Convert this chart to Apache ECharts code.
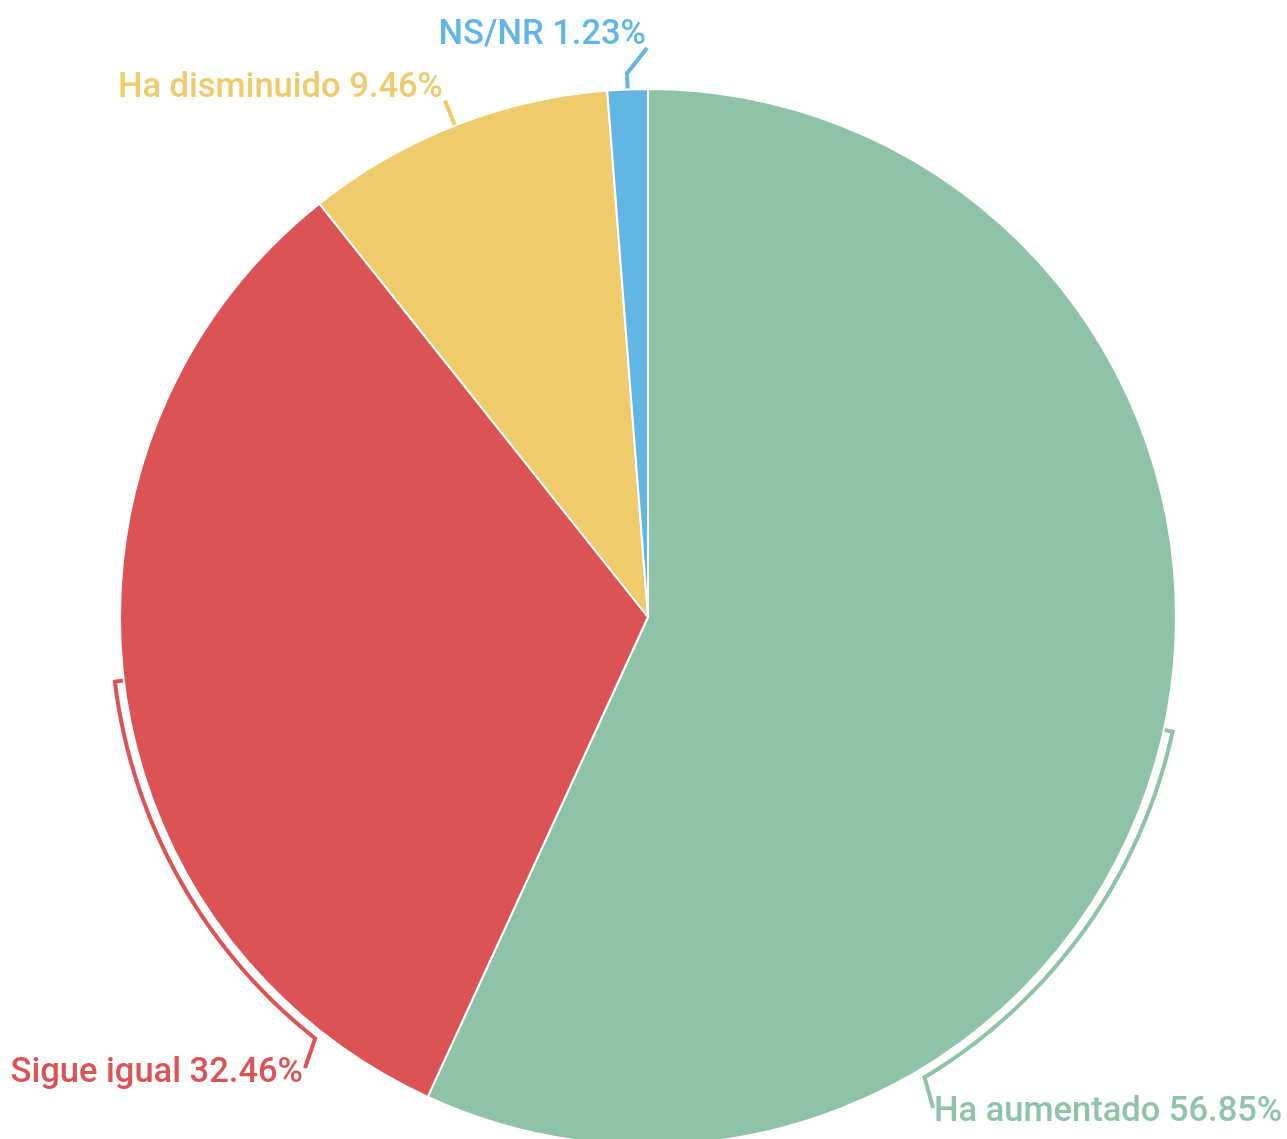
<!DOCTYPE html>
<html>
<head>
<meta charset="utf-8">
<script src="https://cdn.jsdelivr.net/npm/echarts@6/dist/echarts.min.js"></script>
<style>
  html, body { margin: 0; padding: 0; background: #fff; }
  #chart { width: 1287px; height: 1139px; }
</style>
</head>
<body>
<div id="chart"></div>
<script>
// datos
const categories = ['Ha aumentado', 'Sigue igual', 'Ha disminuido', 'NS/NR']
const values = [56.85, 32.46, 9.46, 1.23]
const colors = ['#8fc3a8', '#dc5356', '#eecb6b', '#61b6e4']

// geometría del pastel
const CX = 648
const CY = 617
const R = 528

// guías de etiqueta (estilo): radio del trazo, ángulo final del arco, extremo y etiqueta
const guides = [
  { r: 537, arcTo: 149, end: [933, 1108], label: { x: 934, y: 1112, align: 'left' } },
  { r: 537, arcTo: 218.3, end: [305, 1068], label: { x: 303, y: 1073, align: 'right' } },
  { r: 555, arcTo: null, end: null, label: { x: 443, y: 88, align: 'right' } },
  { r: 544, arcTo: null, end: [647, 48], label: { x: 646, y: 35, align: 'right' } }
]

const total = values.reduce((a, b) => a + b, 0)

function polar(r, deg) {
  const a = (deg * Math.PI) / 180
  return [CX + r * Math.sin(a), CY - r * Math.cos(a)]
}

function midAngle(i) {
  let acc = 0
  for (let j = 0; j < i; j++) acc += values[j]
  return ((acc + values[i] / 2) / total) * 360
}

function guidePoints(i) {
  const g = guides[i]
  const mid = midAngle(i)
  const pts = [polar(R, mid), polar(g.r, mid)]
  if (g.arcTo != null) {
    const step = g.arcTo > mid ? 1 : -1
    for (let a = mid + step; step > 0 ? a < g.arcTo : a > g.arcTo; a += step) {
      pts.push(polar(g.r, a))
    }
    pts.push(polar(g.r, g.arcTo))
  }
  if (g.end) pts.push(g.end)
  return pts
}

const chart = echarts.init(document.getElementById('chart'))

chart.setOption({
  animation: false,
  color: colors,
  series: [
    {
      type: 'pie',
      center: [CX, CY],
      radius: R,
      startAngle: 90,
      clockwise: true,
      avoidLabelOverlap: false,
      itemStyle: { borderColor: '#fff', borderWidth: 2 },
      label: {
        show: true,
        width: 420,
        overflow: 'none',
        fontFamily: 'Roboto',
        fontSize: 34.5,
        fontWeight: 500,
        color: 'inherit',
        formatter: p => p.name + ' ' + p.value.toFixed(2) + '%'
      },
      labelLine: { show: true, length: 10, length2: 10, lineStyle: { width: 4 } },
      labelLayout: function (p) {
        const g = guides[p.dataIndex]
        return {
          x: g.label.x,
          y: g.label.y,
          align: g.label.align,
          verticalAlign: 'middle',
          labelLinePoints: guidePoints(p.dataIndex)
        }
      },
      data: categories.map((name, i) => ({
        name: name,
        value: values[i],
        label: { color: colors[i] },
        labelLine: { lineStyle: { color: colors[i] } }
      }))
    }
  ]
})

window.addEventListener('resize', () => chart.resize())
</script>
</body>
</html>
